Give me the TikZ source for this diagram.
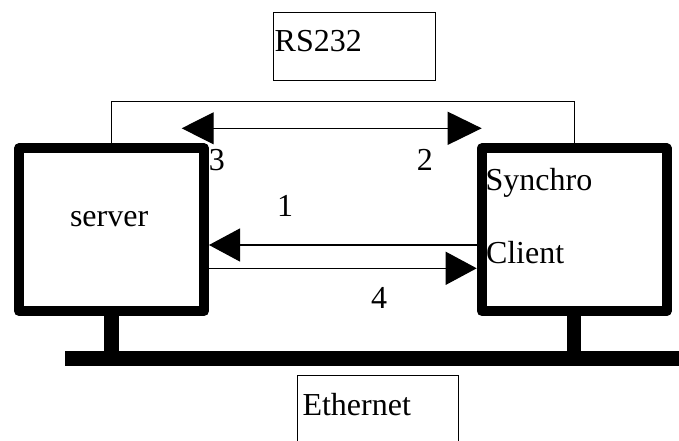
\documentclass[tikz,border=0pt]{standalone}
\usepackage{fontspec}
\setmainfont{Liberation Serif}
\newfontfamily\labelfont{Liberation Serif}
\usetikzlibrary{arrows.meta}
\begin{document}
\begin{tikzpicture}[x=1pt,y=-1pt,
  font=\labelfont\fontsize{32}{38}\selectfont,
  wire/.style={line width=1.2pt},
  host/.style={draw, line width=10pt, line join=round, minimum width=185pt,
    minimum height=162.7pt, inner sep=0pt},
  txt/.style={anchor=base west, inner sep=0pt},
  tag/.style={draw, line width=1pt, inner sep=0pt},
  bigtip/.style={-{Triangle[length=31pt,width=33pt]}},
]
\useasboundingbox (0,0) rectangle (679,441);
\clip (0,0) rectangle (679,441);

% the two machines
\node[host] (srv) at (111.5,229.7) {};
\node[host] (cli) at (574.2,229.7) {};

% labelled boxes for the two links
\node[tag, minimum width=161.7pt, minimum height=68.3pt] (rsbox) at (354.65,46.35) {};
\node[tag, minimum width=161.6pt, minimum height=84pt] (ethbox) at (378,417.5) {};

% Ethernet bus and the machine stands
\coordinate (busL) at (65,358.3);
\coordinate (busR) at (685,358.3);
\draw[line width=15pt] (busL) -- (busR);
\draw[line width=14.5pt] (srv.south) -- (srv.south |- busL);
\draw[line width=14.5pt] (cli.south) -- (cli.south |- busL);

% serial cable
\draw[wire] (srv.north) -- ++(0,-41.8) -| (cli.north);

% double arrow over the serial link
\coordinate (a3) at (181.7,128.3);
\coordinate (a2) at (481.7,128.3);
\draw[wire, {Triangle[length=32pt,width=32pt]}-{Triangle[length=34pt,width=33pt]}] (a3) -- (a2);

% request / reply arrows between the machines
\coordinate (y1) at (0,245);
\coordinate (y4) at (0,268.3);
\draw[wire, bigtip] (cli.west |- y1) -- (srv.east |- y1);
\draw[wire, bigtip] (srv.east |- y4) -- (cli.west |- y4);

% texts
\node[txt] (rstxt) at (274.5,51.7) {RS232};
\node[txt] (ethtxt) at (302.3,415) {Ethernet};
\node[txt] (srvtxt) at (69.8,226.7) {server};
\node[txt] (syntxt) at (485.4,190) {Synchro};
\node[txt] (clitxt) at (485.8,263.3) {Client};
\node[txt] (n3) at (208.6,170) {3};
\node[txt] (n2) at (416.7,170.7) {2};
\node[txt] (n1) at (277,216) {1};
\node[txt] (n4) at (371,308.3) {4};
\end{tikzpicture}
\end{document}
